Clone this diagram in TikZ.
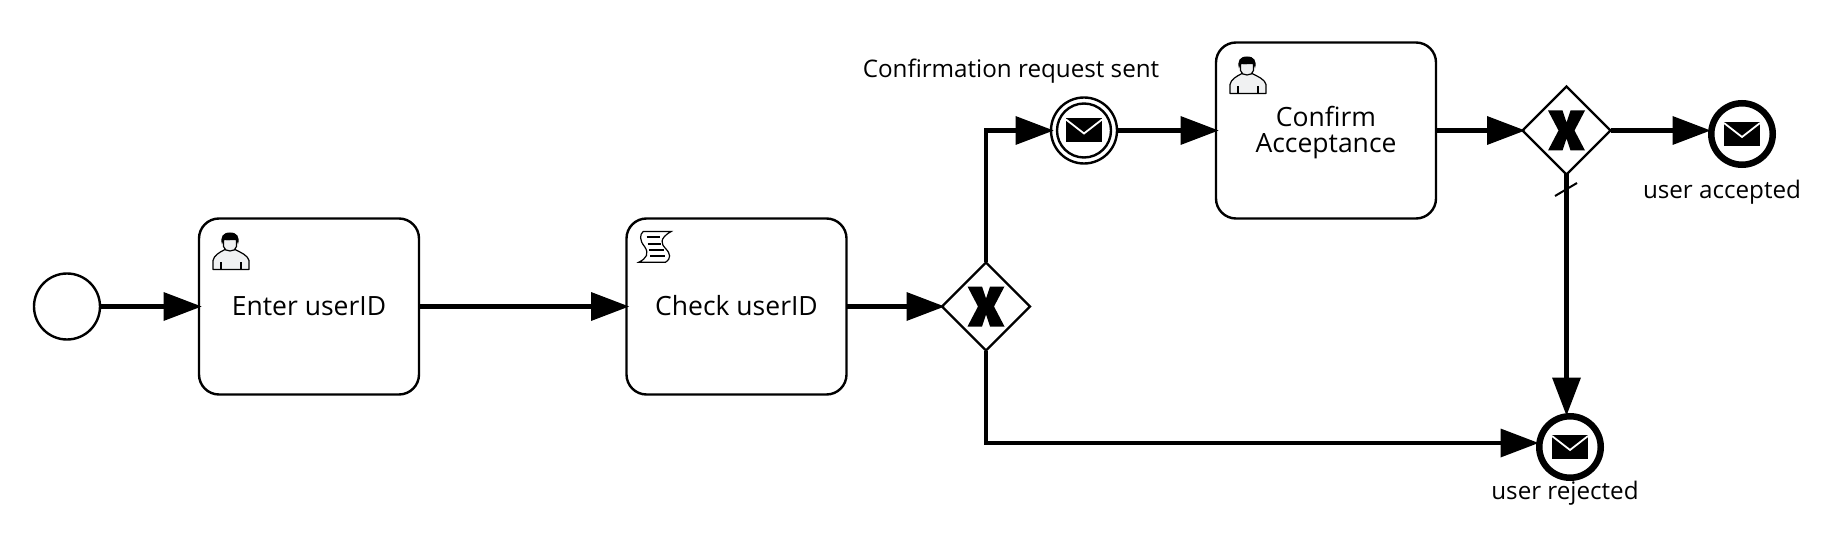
\documentclass[tikz,border=0pt]{standalone}
\usepackage{fontspec}
\setmainfont{Open Sans}
\usetikzlibrary{positioning, arrows.meta, shapes.geometric}

\definecolor{iconfill}{HTML}{F0F1F2}

\tikzset{
  flow/.style = {line width=4.5pt, shorten >=-2.5pt, -{Triangle[length=38pt, width=29pt, line width=0pt]}},
  task/.style = {draw, line width=2.4pt, rounded corners=20pt, minimum width=220pt, minimum height=176pt,
    inner sep=0pt, outer sep=0pt, align=center, text height=20pt, text depth=3pt, font=\fontsize{26.5}{27}\selectfont},
  tasktext/.style = {inner sep=0pt, align=center, font=\fontsize{26.5}{26}\selectfont},
  startevent/.style = {draw, circle, line width=2.4pt, minimum size=66pt, inner sep=0pt, outer sep=0pt},
  catchevent/.style = {draw, circle, line width=2.4pt, minimum size=66pt, inner sep=0pt, outer sep=0pt},
  innerring/.style = {draw, circle, line width=2.4pt, minimum size=54pt, inner sep=0pt, outer sep=0pt},
  endevent/.style = {draw, circle, line width=6.5pt, minimum size=61.5pt, inner sep=0pt},
  gateway/.style = {draw, diamond, line width=2.4pt, minimum size=88pt, inner sep=0pt, outer sep=0pt, aspect=1},
  tag/.style = {inner sep=0pt, font=\fontsize{24.2}{24.2}\selectfont},
  envelope/.pic = {
    \fill (-18, -12) rectangle (18, 12);
    \draw [white, line width=1.8pt] (-18, -11) -- (0, 3) -- (18, -11);
  },
  xmark/.pic = {
    \fill (-18.5, -20) -- (-4, -20) -- (0, -8) -- (4, -20) -- (18.5, -20) -- (8, 0)
      -- (18.5, 20) -- (4, 20) -- (0, 8) -- (-4, 20) -- (-18.5, 20) -- (-8, 0) -- cycle;
  },
  usericon/.pic = {
    \draw [line width=1.2pt, fill=iconfill, line join=round] (14, 51) -- (14, 42) .. controls (15, 37) and (20, 34) .. (26, 31)
      -- (36, 31) .. controls (42, 34) and (49, 37) .. (50, 42) -- (50, 51) -- cycle;
    \draw [line width=1.2pt] (22, 44) -- (22, 51);
    \draw [line width=1.2pt] (42, 44) -- (42, 51);
    \draw [line width=1.2pt, fill=iconfill] (24.5, 21) -- (24.5, 28) .. controls (25, 34) and (37, 34) .. (37.5, 28) -- (37.5, 21) -- cycle;
    \fill (23, 26) .. controls (21, 18) and (24, 14) .. (31, 14) .. controls (38, 14) and (41, 18) .. (39, 26)
      .. controls (38, 22) and (37, 21) .. (35, 20.5) .. controls (31, 22) and (27, 22) .. (26, 21) .. controls (24, 22) and (24, 23) .. (23, 26) -- cycle;
  },
  scripticon/.pic = {
    \draw [line width=1.2pt, fill=white] (16.7, 13) -- (44.7, 13) .. controls (32, 20) and (35, 26) .. (39, 30)
      .. controls (44, 35) and (45, 40) .. (39, 43.7) -- (12.3, 43.7) .. controls (20, 40) and (23, 35) .. (18, 28)
      .. controls (13, 22) and (13, 16) .. (16.7, 13) -- cycle;
    \foreach \y/\a/\b in {18.7/20/33, 25.3/21/34, 31.3/22.5/37.5, 37.7/23.5/38.5}
      \draw [line width=2pt] (\a, \y) -- (\b, \y);
  },
}

\begin{document}
\begin{tikzpicture}[x=1pt, y=-1pt]
\useasboundingbox (0, 0) rectangle (1848, 556);

\node [startevent] (start) at (67, 306.5) {};
\node [task] (enter) at (309, 306.5) {Enter userID};
\node [task] (check) at (736.5, 306.5) {Check userID};
\node [gateway] (split) at (986, 306.5) {};
\node [catchevent] (sent) at (1084, 130.5) {};
\node [innerring] (sentring) at (sent) {};
\node [task] (confirm) at (1326, 130.5) {};
\node [tasktext] (confirmtext) at (1326, 133) {Confirm\\Acceptance};
\node [gateway] (accept) at (1566.5, 130.5) {};
\node [endevent] (accepted) at (1742, 134) {};
\node [endevent] (rejected) at (1570, 447) {};

\node [tag] (sentlabel) at (1011, 71) {Confirmation request sent};
\node [tag] (acceptedlabel) at (1722, 192) {user accepted};
\node [tag] (rejectedlabel) at (1565, 493.5) {user rejected};

% icons
\pic at (enter.north west) {usericon};
\pic at (confirm.north west) {usericon};
\pic at (check.north west) {scripticon};
\pic at (split) {xmark};
\pic at (accept) {xmark};
\pic at (sent) {envelope};
\pic at (accepted) {envelope};
\pic at (rejected) {envelope};

\coordinate (bend) at (986, 443);

\draw [flow] (start) -- (enter);
\draw [flow] (enter) -- (check);
\draw [flow] (check) -- (split);
\draw [flow] (split.north) |- (sent.west);
\draw [flow] (sent) -- (confirm.west |- sent);
\draw [flow] (confirm.east) -- (accept.west);
\draw [flow] (accept.east) -- (accepted.west |- accept.east);
\draw [flow] (accept.south) -- (accept.south |- rejected.north);
\draw [flow] (split.south) |- (rejected.west |- bend);
\draw [line width=2pt] (1555, 196) -- (1577, 183);
\end{tikzpicture}
\end{document}
